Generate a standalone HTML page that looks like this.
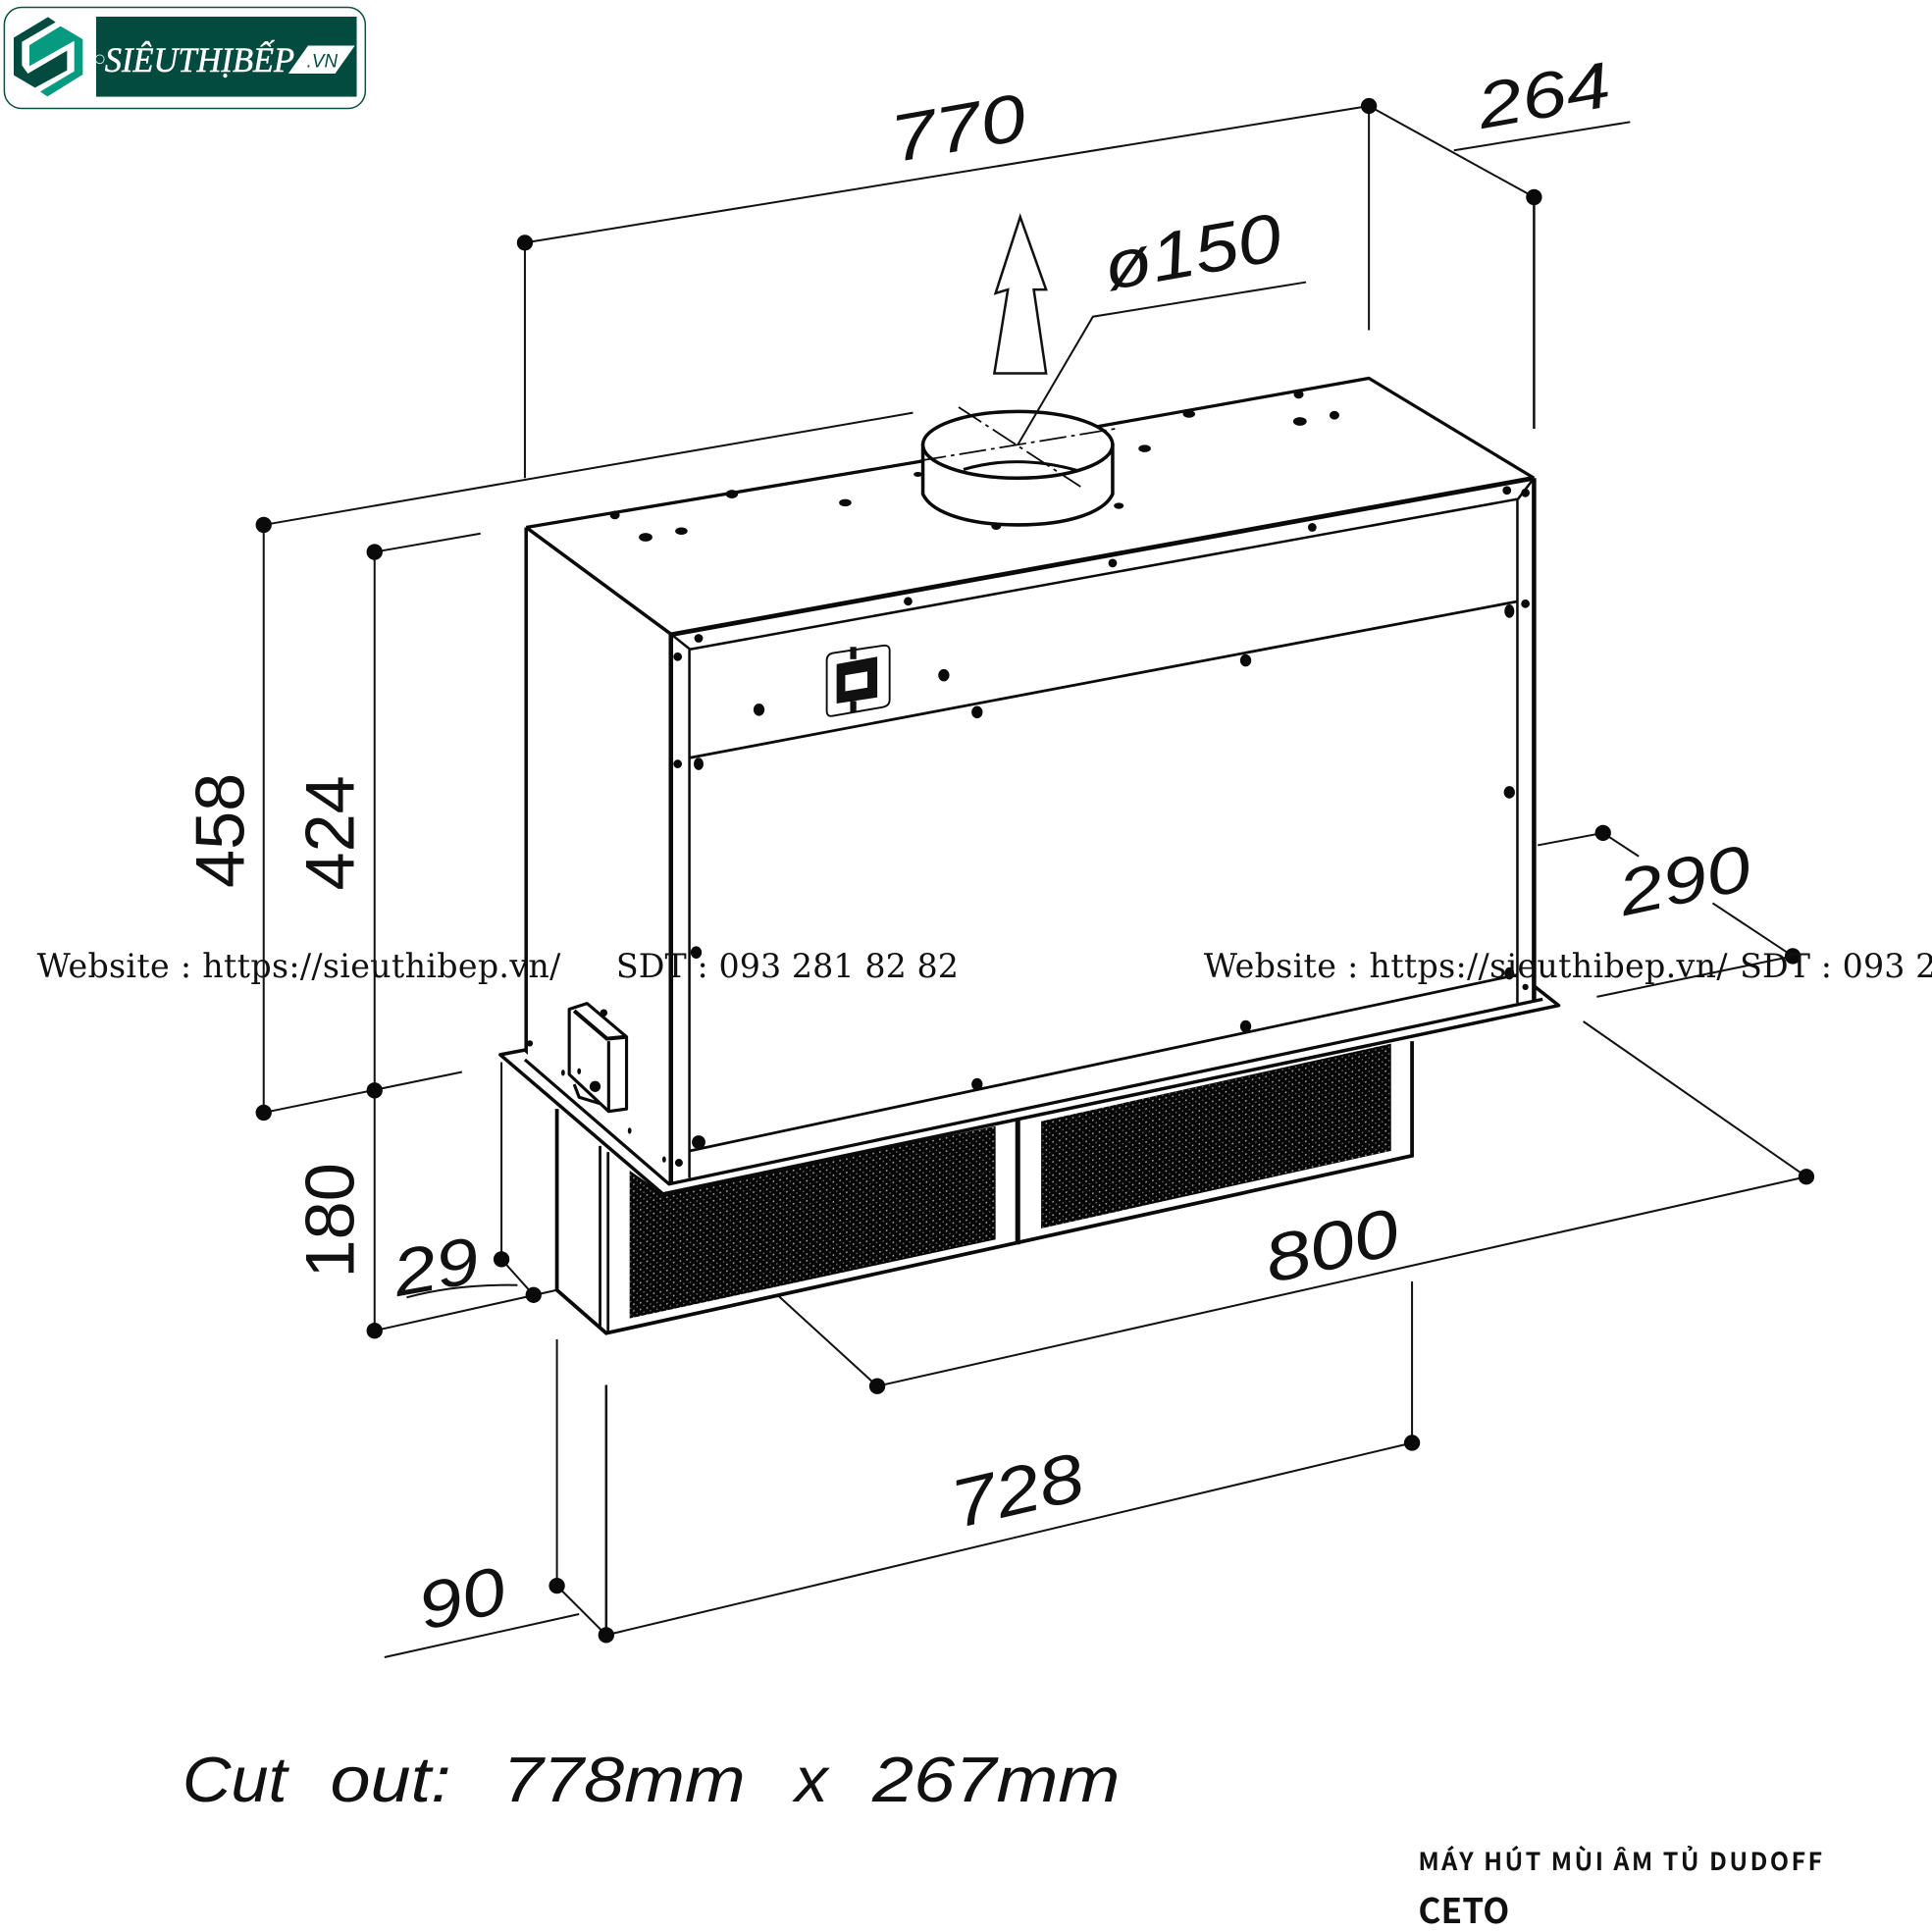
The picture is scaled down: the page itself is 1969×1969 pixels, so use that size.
<!DOCTYPE html>
<html><head><meta charset="utf-8"><style>html,body{margin:0;padding:0;background:#fff;width:1969px;height:1969px;overflow:hidden}svg{display:block}</style></head><body>
<svg xmlns="http://www.w3.org/2000/svg" width="1969" height="1969" viewBox="0 0 1568 1568">
<defs>
<pattern id="g" width="5.4" height="5.4" patternUnits="userSpaceOnUse" patternTransform="skewY(-12)">
<rect width="5.4" height="5.4" fill="#060606"/><circle cx="1.4" cy="1.4" r=".7" fill="#aaa"/><circle cx="4.1" cy="4.1" r=".6" fill="#777"/>
</pattern>
</defs>
<rect width="1568" height="1568" fill="#fff"/>

<!-- logo -->
<rect x="3.500" y="6" width="293" height="82" rx="14" fill="#fff" stroke="#0c5044" stroke-width="1.200"/>
<rect x="78" y="13.500" width="211.500" height="65" fill="#034b3f"/>
<g transform="scale(.2655) translate(15,30)">
<polygon points="75,108 170,50 238,90 238,198 130,265 108,250 212,188 212,95 75,172" fill="#069a80"/>
<polygon points="27,85 132,22 155,38 52,98 52,170 70,195 190,125 190,185 92,238 27,200" fill="#034b3f"/>
</g>
<polygon points="234,59.700 250,37 288,37 272,59.700" fill="#fff"/>
<circle cx="81" cy="48" r="3.500" fill="none" stroke="#cfe" stroke-width=".7"/>
<text x="85" y="58" font-family="Liberation Serif,serif" font-style="italic" font-size="29" fill="#fff" stroke="#fff" stroke-width=".4" textLength="154" lengthAdjust="spacingAndGlyphs">SIÊUTHỊBẾP</text>
<text x="249" y="54.500" font-family="Liberation Sans,sans-serif" font-style="italic" font-size="15.500" fill="#034b3f" textLength="25" lengthAdjust="spacingAndGlyphs">.VN</text>

<!-- dimension lines -->
<g fill="none" stroke="#111" stroke-width="1.600">
<path d="M426,197L1111,86M426,197V388M1111,86V268"/>
<path d="M1111,86L1245,160"/>
<path d="M1180,122L1323,99"/>
<path d="M214,426L741,335M214,426V903M214,903L375,870"/>
<path d="M304,448L390,433M304,448V1080"/>
<path d="M304,1080L452,1047M407,1022L433,1051M407,1022V862"/>
<path d="M330,1053Q370,1042 420,1043"/>
<path d="M312,1345L470,1310M452,1087V1287M452,1287L492,1327"/>
<path d="M492,1327L1146,1171M1146,1040V1171"/>
<path d="M712,1125L1466,955M712,1125L632,1052M1466,955L1285,829"/>
<path d="M1248,686L1301,676L1330,695M1390,733L1455,776L1296,809"/>
</g>
<path d="M1245,160V348M492,1124V1327" fill="none" stroke="#111" stroke-width="2"/>
<path d="M828,176L849,235L839,235L849,303L807,303L818,235L808,238Z" fill="#fff" stroke="#111" stroke-width="2"/>

<g fill="#0a0a0a">
<circle cx="426" cy="197" r="6.500"/><circle cx="1111" cy="86" r="6.500"/><circle cx="1245" cy="160" r="6.500"/>
<circle cx="214" cy="426" r="6.500"/><circle cx="214" cy="903" r="6.500"/><circle cx="304" cy="448" r="6.500"/><circle cx="304" cy="885" r="6.500"/><circle cx="304" cy="1080" r="6.500"/>
<circle cx="407" cy="1022" r="6.500"/><circle cx="433" cy="1051" r="6.500"/><circle cx="452" cy="1287" r="6.500"/><circle cx="492" cy="1327" r="6.500"/>
<circle cx="1146" cy="1171" r="6.500"/><circle cx="712" cy="1125" r="6.500"/><circle cx="1466" cy="955" r="6.500"/><circle cx="1301" cy="676" r="6.500"/><circle cx="1455" cy="776" r="6.500"/>
</g>

<!-- lower enclosure -->
<polygon points="452,900 452,1047 492,1082 1146,938 1146,845" fill="#fff"/>
<polygon points="511,950 537,968 808,914 808,1006 511,1070" fill="url(#g)"/>
<polygon points="845,910 1129,847 1129,934 845,997" fill="url(#g)"/>
<g fill="none" stroke="#0a0a0a">
<path d="M452,900V1047L492,1082L1146,938V845" stroke-width="3"/>
<path d="M487,930V1078M493.500,935V1082" stroke-width="2.200"/>
<path d="M826,908V1010" stroke-width="4"/>
</g>

<!-- box -->
<polygon points="427,428 1111,307 1245,388 1245,812 543,961 427,860" fill="#fff"/>
<g fill="none" stroke="#0a0a0a">
<path d="M427,428L750,374M889,346.500L1111,307L1245,388" stroke-width="2.600"/>
<path d="M427,428V860M427,428L545,515" stroke-width="2.800"/>
<path d="M545,515L1245,388" stroke-width="3.800"/>
<path d="M1245,388V812M544.500,515V961" stroke-width="3.600"/>
<path d="M560,527L1232,405M559.500,527V956M1231.500,405V814M545,515L560,527M1245,388L1232,405" stroke-width="2"/>
<path d="M560,615L1232,488M560,934L1232,791" stroke-width="2.200"/>
</g>

<!-- plate -->
<polygon points="407,858 425,853 543,961 1251,811 1265,815 538,969" fill="#fff"/>
<path d="M427,852L406,856L538,969L1265,816L1246,801" fill="none" stroke="#0a0a0a" stroke-width="2.800" stroke-linejoin="round"/>
<path d="M426,860L543,961L1252,811" fill="none" stroke="#0a0a0a" stroke-width="2.600"/>

<!-- duct -->
<path d="M749,361V401C756,416 785,426 826,426C867,426 896,416 903,401V361Z" fill="#fff" stroke="#0a0a0a" stroke-width="2.800"/>
<ellipse cx="826" cy="361" rx="77" ry="27" fill="#fff" stroke="#0a0a0a" stroke-width="2.800"/>
<path d="M782,381Q826,368 875,382" fill="none" stroke="#0a0a0a" stroke-width="2.400"/>
<path d="M778,330.500L877,395M746,374L905,348" fill="none" stroke="#0a0a0a" stroke-width="1.400" stroke-dasharray="22 4 3 4"/>
<path d="M1060,229L887,257L826,361" fill="none" stroke="#111" stroke-width="1.600"/>

<!-- switch -->
<path d="M676,530L716,524Q722,523 722,528V568Q722,573 716,574L676,581Q671,582 671,577V536Q671,531 676,530Z" fill="#fff" stroke="#0a0a0a" stroke-width="1.500"/>
<polygon points="679,539 712,533 712,566 679,571" fill="#111"/>
<polygon points="686,548 704,545 704,558 686,561" fill="#fff"/>
<rect x="690" y="525" width="5" height="10" fill="#111"/><rect x="690" y="569" width="5" height="9" fill="#111"/>

<!-- control box -->
<path d="M462,819L476.500,814.400L508.500,841.500V900L494,902L462,872Z" fill="#fff" stroke="#0a0a0a" stroke-width="2.500" stroke-linejoin="round"/>
<path d="M466,820.400L492.500,843L508.500,841.500" fill="none" stroke="#0a0a0a" stroke-width="3.200"/>
<path d="M494,845V902M466,880L470,890.500L488,896" fill="none" stroke="#0a0a0a" stroke-width="2.500"/>

<!-- rivets -->
<g fill="#0a0a0a">
<ellipse cx="499" cy="418" rx="4" ry="3.500"/><ellipse cx="594" cy="401" rx="5" ry="3.500"/><ellipse cx="686" cy="408" rx="5" ry="3"/><ellipse cx="524" cy="436" rx="5.500" ry="3.500"/><ellipse cx="553" cy="431" rx="5" ry="3"/><ellipse cx="965" cy="336" rx="5" ry="3"/><ellipse cx="1054" cy="320" rx="4" ry="3.500"/><ellipse cx="1055" cy="342" rx="5.500" ry="3.500"/><ellipse cx="1083" cy="337" rx="4" ry="3.500"/><ellipse cx="929" cy="364" rx="5" ry="3"/><ellipse cx="908" cy="410.500" rx="4" ry="2.500"/><ellipse cx="808.500" cy="427" rx="4" ry="3"/><ellipse cx="745" cy="385" rx="3.500" ry="2"/>
<circle cx="567" cy="518" r="3.500"/><circle cx="737" cy="488" r="3.500"/><circle cx="903" cy="457" r="3.500"/><circle cx="1065" cy="428" r="3.500"/><circle cx="1223" cy="398" r="3.500"/><circle cx="1238" cy="400" r="3.500"/><circle cx="1238" cy="490" r="3.500"/><ellipse cx="1225" cy="496" rx="4" ry="5.500"/>
<circle cx="550" cy="533" r="3.500"/><circle cx="550" cy="620" r="3.500"/><ellipse cx="567" cy="620" rx="4" ry="5"/><ellipse cx="616" cy="576" rx="4.500" ry="5"/><ellipse cx="766" cy="548" rx="4.500" ry="5"/><ellipse cx="793" cy="578" rx="4.500" ry="5"/><ellipse cx="1011" cy="536" rx="4.500" ry="5"/><ellipse cx="1225" cy="643" rx="4.500" ry="5"/><ellipse cx="565" cy="773" rx="4.500" ry="5"/><ellipse cx="1225" cy="790" rx="4" ry="5"/><ellipse cx="1011" cy="833" rx="4.500" ry="5"/><ellipse cx="793" cy="880" rx="4.500" ry="5"/><circle cx="567" cy="927" r="5.500"/><circle cx="551" cy="943.700" r="3.200"/><circle cx="1238" cy="801" r="2.500"/>
<circle cx="483" cy="881.800" r="4.500"/><circle cx="490" cy="822" r="3"/><circle cx="430" cy="846.800" r="2.500"/><ellipse cx="457" cy="870.600" rx="1.500" ry="2.500"/><ellipse cx="470" cy="869.400" rx="1.500" ry="2.500"/><ellipse cx="511" cy="917.700" rx="1.500" ry="2.500"/><ellipse cx="539" cy="941" rx="1.500" ry="2.500"/>
</g>

<!-- labels -->
<g font-family="Liberation Sans,sans-serif" fill="#111" text-anchor="middle">
<g font-style="italic">
<text transform="translate(781,122) rotate(-10) scale(1.100,.900)" font-size="60">770</text>
<text transform="translate(1256,95) rotate(-10) scale(1.120,.900)" font-size="58">264</text>
<text transform="translate(971,223) rotate(-10) scale(1.100,.950)" font-size="58">ø150</text>
<text transform="translate(357,1046) rotate(-10) scale(1.120,.950)" font-size="56">29</text>
<text transform="translate(1085,1029) rotate(-13) scale(1.100,.900)" font-size="60">800</text>
<text transform="translate(1371,732) rotate(-12) scale(1.120,.900)" font-size="58">290</text>
<text transform="translate(830,1228) rotate(-13) scale(1.080,.920)" font-size="60">728</text>
<text transform="translate(379,1315) rotate(-13) scale(1.100,.920)" font-size="58">90</text>
</g>
<text transform="translate(198,674) rotate(-90)" font-size="56">458</text>
<text transform="translate(287,676) rotate(-90)" font-size="56">424</text>
<text transform="translate(287,990.500) rotate(-90)" font-size="56">180</text>
</g>
<g font-family="Liberation Sans,sans-serif" font-style="italic" font-size="52" fill="#111">
<text x="148" y="1462" textLength="85" lengthAdjust="spacingAndGlyphs">Cut</text>
<text x="268" y="1462" textLength="98" lengthAdjust="spacingAndGlyphs">out:</text>
<text x="408" y="1462" textLength="197" lengthAdjust="spacingAndGlyphs">778mm</text>
<text x="645" y="1462" textLength="27" lengthAdjust="spacingAndGlyphs">x</text>
<text x="708" y="1462" textLength="201" lengthAdjust="spacingAndGlyphs">267mm</text>
</g>

<!-- watermark -->
<g font-family="DejaVu Serif,serif" font-size="26.500" fill="#111">
<text x="30" y="793" textLength="425">Website : https://sieuthibep.vn/</text>
<text x="500" y="793" textLength="278">SDT : 093 281 82 82</text>
<text x="977" y="793" textLength="425">Website : https://sieuthibep.vn/</text>
<text x="1412" y="793" textLength="278">SDT : 093 281 82 82</text>
</g>

<!-- caption -->
<g font-family="Noto Sans CJK SC,Liberation Sans,sans-serif" font-weight="bold" fill="#111">
<text x="1151" y="1518" font-size="20" textLength="328">MÁY HÚT MÙI ÂM TỦ DUDOFF</text>
<text x="1151" y="1561" font-size="28" textLength="74">CETO</text>
</g>
</svg>
</body></html>
